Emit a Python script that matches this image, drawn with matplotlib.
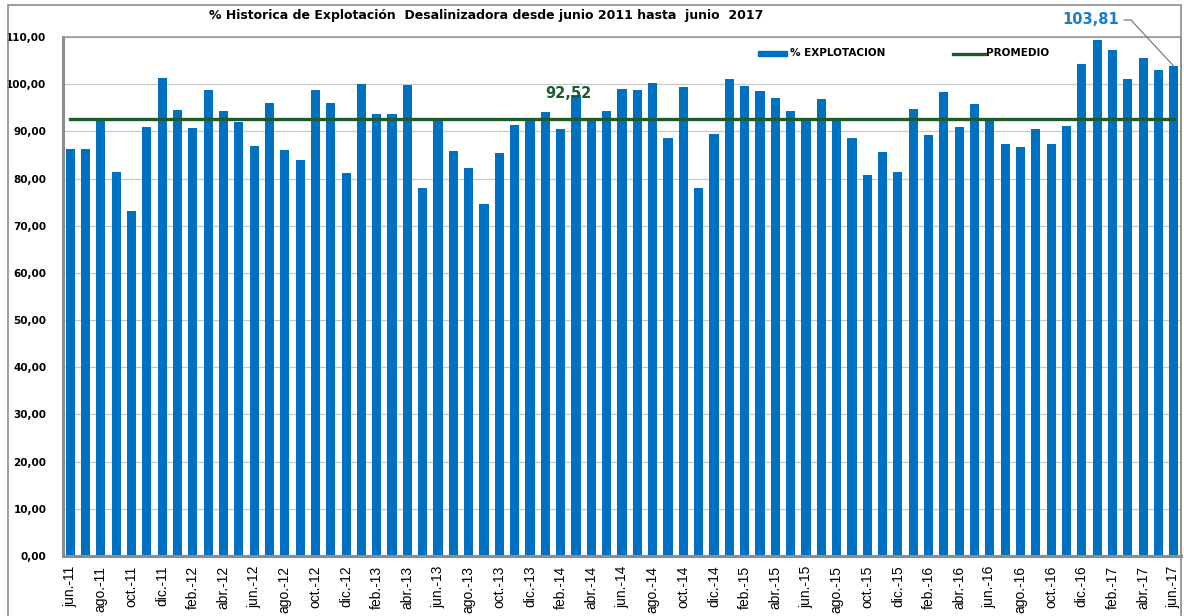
import matplotlib
matplotlib.use("Agg")
import matplotlib.pyplot as plt
from matplotlib.patches import Rectangle
from matplotlib.lines import Line2D

months = ["jun.", "jul.", "ago.", "sep.", "oct.", "nov.", "dic.",
          "ene.", "feb.", "mar.", "abr.", "may."]
# build month labels jun.-11 ... jun.-17
labels = []
m, yr = 0, 11
for _ in range(73):
    labels.append(f"{months[m]}-{yr}")
    m += 1
    if m == 7:  # after dic. -> ene. of next year
        yr += 1
    if m == 12:
        m = 0

values = [86.3, 86.2, 92.1, 81.3, 73.1, 90.9, 101.3, 94.5, 90.8, 98.7,
          94.3, 91.9, 87.0, 96.1, 86.1, 83.9, 98.7, 96.1, 81.2, 100.1,
          93.6, 93.7, 99.8, 78.0, 92.4, 85.8, 82.2, 74.7, 85.4, 91.4,
          92.4, 94.0, 90.5, 97.7, 92.4, 94.3, 98.9, 98.7, 100.3, 88.6,
          99.4, 78.0, 89.5, 101.1, 99.6, 98.6, 97.1, 94.3, 92.4, 96.9,
          92.4, 88.6, 80.7, 85.6, 81.4, 94.75, 89.2, 98.3, 90.9, 95.75,
          92.4, 87.4, 86.75, 90.4, 87.4, 91.1, 104.3, 109.3, 107.3, 101.1,
          105.6, 103.1, 103.81]
promedio = 92.52

W, H = 1184, 616
fig = plt.figure(figsize=(W / 100, H / 100), dpi=100)
ax = fig.add_axes([63 / W, 1 - 556 / H, (1181 - 63) / W, (556 - 37) / H])

x = list(range(len(values)))
ax.bar(x, values, width=0.6, color="#0070C0", zorder=2, label="% EXPLOTACION")
ax.plot(x, [promedio] * len(x), color="#1E5A2C", lw=2.4, zorder=3, label="PROMEDIO")

ax.set_xlim(-0.47, len(values) - 0.53)
ax.set_ylim(0, 110)
yt = list(range(0, 111, 10))
ax.set_yticks(yt)
ax.set_yticklabels([f"{v},00" for v in yt], fontsize=7.5, fontweight="bold",
                   family="DejaVu Sans")
ax.set_xticks(x[::2])
ax.set_xticklabels(labels[::2], rotation=90, fontsize=10, family="Liberation Sans")
ax.tick_params(axis="y", length=0, pad=12)
ax.tick_params(axis="x", length=0, pad=7)
ax.grid(axis="y", color="#C8C8C8", lw=0.9, zorder=0)
for s in ["left", "bottom"]:
    ax.spines[s].set_color("#8C8C8C")
    ax.spines[s].set_linewidth(2.2)
for s in ["top", "right"]:
    ax.spines[s].set_color("#9A9A9A")
    ax.spines[s].set_linewidth(1.2)

# outer chart frame
fig.patches.append(Rectangle((8 / W, -0.05), (1181 - 8) / W, 1.05 - 5 / H,
                             transform=fig.transFigure, fill=False,
                             edgecolor="#8C8C8C", lw=1.2))

fig.text(486 / W, 1 - 16 / H,
         "% Historica de Explotación  Desalinizadora desde junio 2011 hasta  junio  2017",
         ha="center", va="center", fontsize=9, fontweight="bold", family="DejaVu Sans")

# legend (manual, as in the original)
fig.patches.append(Rectangle((758 / W, 1 - 56 / H), 29 / W, 5 / H,
                             transform=fig.transFigure, color="#0070C0"))
fig.text(790 / W, 1 - 53.5 / H, "% EXPLOTACION", ha="left", va="center",
         fontsize=7.5, fontweight="bold", family="DejaVu Sans")
fig.lines.append(Line2D([953 / W, 985 / W], [1 - 54 / H, 1 - 54 / H],
                        transform=fig.transFigure, color="#1E5A2C", lw=2.4))
fig.text(986 / W, 1 - 53.5 / H, "PROMEDIO", ha="left", va="center",
         fontsize=7.5, fontweight="bold", family="DejaVu Sans")

ax.text(32.5, 98.1, "92,52", ha="center", va="center", fontsize=10.5,
        fontweight="bold", color="#1E5A2C", family="DejaVu Sans", zorder=4)

# data label for the last bar with leader line
fig.text(1119 / W, 1 - 20 / H, "103,81", ha="right", va="center", fontsize=10.5,
         fontweight="bold", color="#1A7CCB", family="DejaVu Sans")
bx, by = ax.transData.transform((len(values) - 1, values[-1]))
fig.lines.append(Line2D([1124, 1131, bx], [H - 20, H - 20, by],
                        transform=None, color="#707070", lw=0.8))

fig.savefig("out.png", dpi=100)
